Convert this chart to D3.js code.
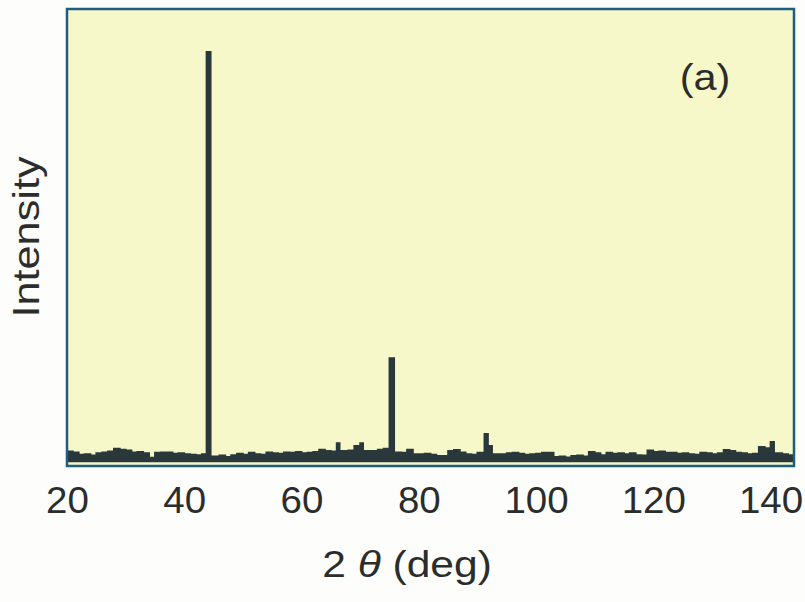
<!DOCTYPE html>
<html>
<head>
<meta charset="utf-8">
<script src="https://cdn.jsdelivr.net/npm/d3@7"></script>
<style>
  body { margin: 0; background: #fdfdfb; }
  svg { display: block; }
  text { font-family: "Liberation Sans", Arial, sans-serif; fill: #2b2d2d; }
</style>
</head>
<body>
<svg id="chart" width="805" height="602"></svg>
<script>
// XRD pattern, 2theta (deg) vs intensity (arb. units)
const twoTheta = [
  20, 21, 22, 23, 24, 25, 26, 27, 28, 29,
  30, 31, 32, 33, 34, 35, 36, 37, 38, 39,
  40, 41, 42, 43, 43.8, 44.5, 45, 46, 47, 48,
  49, 50, 51, 52, 53, 54, 55, 56, 57, 58,
  59, 60, 61, 62, 63, 64, 65, 66, 66.5, 67,
  68, 69, 70, 70.5, 71, 72, 73, 74, 75, 75.8,
  77, 78, 79, 80, 81, 82, 83, 84, 85, 86,
  87, 88, 89, 90, 91.2, 91.8, 92.5, 94, 95, 96,
  97, 98, 99, 100, 101, 102, 103, 104, 105, 106,
  107, 108, 109, 110, 111, 112, 113, 114, 115, 116,
  117, 118, 119, 120, 121, 122, 123, 124, 125, 126,
  127, 128, 129, 130, 131, 132, 133, 134, 135, 136,
  137, 138, 139, 140, 140.6, 141, 142, 143, 144
];
const intensity = [
  3.2, 3.0, 2.5, 2.6, 2.3, 2.8, 3.0, 3.2, 3.8, 3.6,
  3.4, 3.0, 3.1, 2.8, 1.8, 2.9, 3.0, 3.0, 2.7, 2.8,
  2.6, 2.5, 2.4, 2.6, 90.6, 2.1, 2.1, 2.3, 2.0, 2.4,
  2.7, 2.5, 2.9, 2.6, 2.5, 3.0, 2.8, 2.7, 3.0, 2.9,
  3.1, 2.8, 2.9, 3.1, 3.6, 3.3, 3.2, 5.0, 3.3, 3.3,
  3.4, 4.4, 5.0, 3.3, 3.3, 3.3, 3.6, 3.8, 23.6, 3.0,
  2.9, 3.6, 2.6, 2.6, 2.7, 2.5, 2.2, 2.2, 3.3, 3.5,
  3.0, 2.6, 2.5, 2.9, 7.0, 4.4, 2.6, 2.6, 2.8, 2.9,
  2.7, 2.5, 2.6, 2.7, 2.9, 2.9, 2.0, 2.1, 1.9, 2.2,
  2.3, 2.1, 3.1, 2.8, 2.4, 2.9, 2.7, 2.8, 2.6, 2.8,
  2.4, 2.3, 3.4, 3.1, 3.2, 2.9, 2.9, 2.7, 2.8, 2.6,
  2.5, 2.9, 2.8, 2.6, 2.8, 3.5, 3.3, 2.9, 2.8, 2.6,
  2.7, 4.2, 3.9, 5.3, 2.8, 2.8, 2.6, 2.4, 2.3
];
const xTicks = [20, 40, 60, 80, 100, 120, 140];
const panelLabel = "(a)";

const margin = { top: 9, right: 11, bottom: 136, left: 67 };
const width = 805, height = 602;
const svg = d3.select("#chart");

const x = d3.scaleLinear().domain([20, 144]).range([margin.left, width - margin.right]);
const y = d3.scaleLinear().domain([0, 100]).range([height - margin.bottom, margin.top]);

const points = twoTheta.map((t, i) => [t, intensity[i]]);

// plot background
svg.append("rect")
    .attr("x", margin.left)
    .attr("y", margin.top)
    .attr("width", width - margin.left - margin.right)
    .attr("height", height - margin.top - margin.bottom)
    .attr("fill", "#f6f8c9");

// pattern drawn as a filled step band plus outline
const floor = 0.8;
svg.append("path")
    .datum(points)
    .attr("fill", "#2a383b")
    .attr("d", d3.area()
        .x(d => x(d[0]))
        .y0(y(floor))
        .y1(d => y(d[1]))
        .curve(d3.curveStepAfter));

svg.append("path")
    .datum(points)
    .attr("fill", "none")
    .attr("stroke", "#2a383b")
    .attr("stroke-width", 1.8)
    .attr("d", d3.line()
        .x(d => x(d[0]))
        .y(d => y(d[1]))
        .curve(d3.curveStepAfter));

// frame
svg.append("rect")
    .attr("x", margin.left)
    .attr("y", margin.top)
    .attr("width", width - margin.left - margin.right)
    .attr("height", height - margin.top - margin.bottom)
    .attr("fill", "none")
    .attr("stroke", "#1f5c84")
    .attr("stroke-width", 2.5);

// x tick labels (no tick marks in the original)
const xAxis = d3.axisBottom(x).tickValues(xTicks).tickSize(0).tickPadding(0);
const gx = svg.append("g")
    .attr("transform", `translate(0,${height - margin.bottom})`)
    .call(xAxis);
gx.select(".domain").remove();
gx.selectAll("text")
    .attr("dy", null)
    .attr("y", 47)
    .attr("font-size", 37)
    .attr("font-family", "Liberation Sans, Arial, sans-serif")
    .attr("fill", "#2b2d2d")
    .attr("transform", "scale(1.04,1)");

// axis titles
const xTitle = svg.append("text")
    .attr("transform", "translate(407,577) scale(1.15,1)")
    .attr("text-anchor", "middle")
    .attr("font-size", 37);
xTitle.append("tspan").text("2 ");
xTitle.append("tspan").attr("font-style", "italic").text("θ");
xTitle.append("tspan").text(" (deg)");

svg.append("text")
    .attr("transform", "translate(39,237) rotate(-90) scale(1.17,1)")
    .attr("text-anchor", "middle")
    .attr("font-size", 37)
    .text("Intensity");

svg.append("text")
    .attr("transform", "translate(705,90) scale(1.12,1)")
    .attr("text-anchor", "middle")
    .attr("font-size", 37)
    .text(panelLabel);
</script>
</body>
</html>
